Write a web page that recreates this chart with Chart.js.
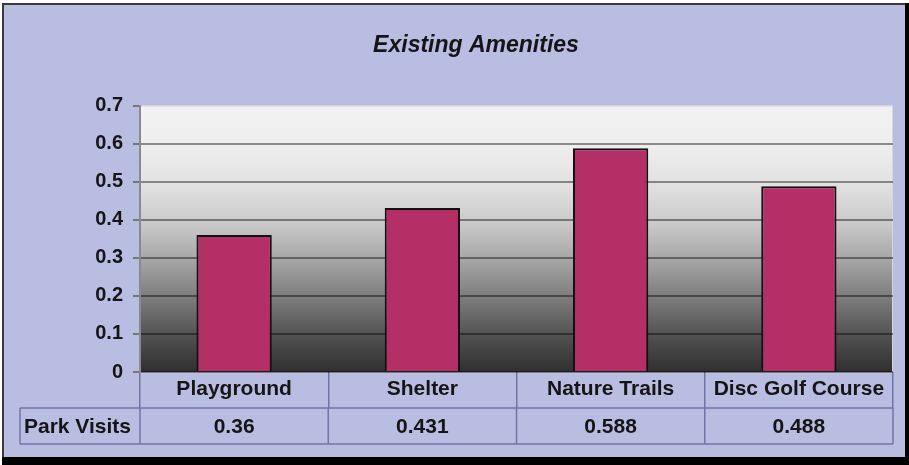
<!DOCTYPE html>
<html>
<head>
<meta charset="utf-8">
<script src="https://cdn.jsdelivr.net/npm/chart.js@4"></script>
<style>
  body { margin: 0; background: #fff; }
  canvas { display: block; }
</style>
</head>
<body>
<canvas id="amenities-chart" width="909" height="465"></canvas>
<script>
// chart data
const categories = ['Playground', 'Shelter', 'Nature Trails', 'Disc Golf Course'];
const parkVisits = [0.36, 0.431, 0.588, 0.488];
const valueLabels = ['0.36', '0.431', '0.588', '0.488'];
const seriesName = 'Park Visits';
const yTickLabels = ['0', '0.1', '0.2', '0.3', '0.4', '0.5', '0.6', '0.7'];
const chartTitle = 'Existing Amenities';

const FONT = "'Liberation Sans', Arial, sans-serif";
const lavender = '#b9bde2';
const tableLine = '#7075a6';
const textColor = '#151515';

// frame + gradient behind the plot
const backdrop = {
  id: 'backdrop',
  beforeDraw: (chart) => {
    const ctx = chart.ctx;
    const area = chart.chartArea;
    const w = chart.width;
    const h = chart.height;
    ctx.save();
    ctx.fillStyle = '#ffffff';
    ctx.fillRect(0, 0, w, h);
    ctx.fillStyle = lavender;
    ctx.fillRect(3, 4, w - 7, h - 11);
    // top / left edge
    ctx.fillStyle = '#3a3a3a';
    ctx.fillRect(2, 3, w - 6, 2);
    ctx.fillRect(2, 3, 2, h - 9);
    // shadow right / bottom
    ctx.fillStyle = '#000000';
    ctx.fillRect(w - 4, 3, 4, h - 3);
    ctx.fillRect(2, h - 8, w - 2, 8);

    const g = ctx.createLinearGradient(0, area.top, 0, area.bottom);
    g.addColorStop(0, '#f2f2f2');
    g.addColorStop(0.15, '#eeeeee');
    g.addColorStop(0.3, '#e1e1e1');
    g.addColorStop(0.45, '#c8c8c8');
    g.addColorStop(0.6, '#a0a0a0');
    g.addColorStop(0.75, '#747474');
    g.addColorStop(0.88, '#4d4d4d');
    g.addColorStop(1, '#2f2f2f');
    ctx.fillStyle = g;
    ctx.fillRect(area.left, area.top, area.right - area.left, area.bottom - area.top);
    ctx.strokeStyle = '#d6d6dc';
    ctx.lineWidth = 1;
    ctx.strokeRect(area.left + 0.5, area.top + 0.5, area.right - area.left - 1, area.bottom - area.top);
    ctx.restore();
  },
};

// data table row under the category labels
const dataTable = {
  id: 'dataTable',
  afterDraw: (chart) => {
    const ctx = chart.ctx;
    const x = chart.scales.x;
    const top = x.bottom;
    const rowH = x.height;
    const left = 20;
    ctx.save();
    ctx.strokeStyle = tableLine;
    ctx.lineWidth = 1.5;
    ctx.beginPath();
    ctx.moveTo(left, top);
    ctx.lineTo(x.right, top);
    ctx.moveTo(left, top + rowH);
    ctx.lineTo(x.right, top + rowH);
    ctx.moveTo(left, top);
    ctx.lineTo(left, top + rowH);
    for (let i = 0; i <= categories.length; i++) {
      const px = x.getPixelForValue(i - 0.5);
      ctx.moveTo(px, top);
      ctx.lineTo(px, top + rowH);
    }
    ctx.stroke();

    ctx.fillStyle = textColor;
    ctx.font = 'bold 21px ' + FONT;
    ctx.textBaseline = 'middle';
    ctx.textAlign = 'left';
    ctx.fillText(seriesName, left + 4, top + rowH / 2 + 1);
    ctx.textAlign = 'center';
    valueLabels.forEach((v, i) => {
      ctx.fillText(v, x.getPixelForValue(i), top + rowH / 2 + 1);
    });
    ctx.restore();
  },
};

new Chart(document.getElementById('amenities-chart'), {
  type: 'bar',
  data: {
    labels: categories,
    datasets: [
      {
        label: seriesName,
        data: parkVisits,
        backgroundColor: '#b42f66',
        borderColor: '#111111',
        borderWidth: 2,
        categoryPercentage: 0.4,
        barPercentage: 1,
      },
    ],
  },
  options: {
    responsive: false,
    animation: false,
    layout: {
      padding: { left: 59, right: 16, top: 0, bottom: 57 },
    },
    plugins: {
      legend: { display: false },
      tooltip: { enabled: false },
      title: {
        display: true,
        text: chartTitle,
        color: textColor,
        font: { family: FONT, size: 23, weight: 'bold', style: 'italic' },
        padding: { top: 32, bottom: 46 },
      },
    },
    scales: {
      x: {
        offset: true,
        afterFit: (scale) => {
          scale.height = 36;
        },
        border: { display: false },
        grid: {
          offset: true,
          drawOnChartArea: false,
          tickLength: 36,
          tickColor: tableLine,
          lineWidth: 1.5,
        },
        ticks: {
          padding: -31,
          color: textColor,
          font: { family: FONT, size: 21, weight: 'bold' },
          maxRotation: 0,
        },
      },
      y: {
        min: 0,
        max: 0.7,
        afterFit: (scale) => {
          scale.width = 81;
        },
        border: { display: true, color: '#8a8a8a', width: 2 },
        grid: {
          color: (c) => (c.index === yTickLabels.length - 1 ? 'rgba(0,0,0,0)' : 'rgba(0,0,0,0.42)'),
          lineWidth: 2,
          tickLength: 7,
          tickColor: '#777777',
        },
        ticks: {
          stepSize: 0.1,
          padding: 10,
          color: textColor,
          font: { family: FONT, size: 20, weight: 'bold' },
          callback: (v, i) => yTickLabels[i],
        },
      },
    },
  },
  plugins: [backdrop, dataTable],
});
</script>
</body>
</html>
